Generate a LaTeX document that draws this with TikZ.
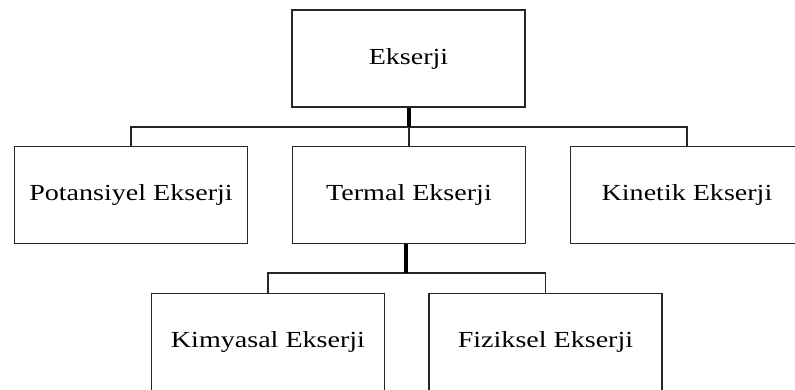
\documentclass[tikz,border=0pt]{standalone}
\usepackage{fontspec}
\setmainfont{Liberation Serif}[FakeStretch=1.22]

\tikzset{
  box/.style={draw=black!85, line width=1.6pt, rectangle, inner sep=0pt,
    minimum width=233pt, minimum height=97pt,
    font=\fontsize{23}{27}\selectfont},
  link/.style={draw=black!85, line width=1.6pt},
  trunk/.style={draw=black, line width=4.5pt}
}

\begin{document}
\begin{tikzpicture}[x=1pt, y=-1pt]
    \clip (0,0) rectangle (795,389);
    \fill[white] (0,0) rectangle (795,389);

    % Top level
    \node[box] (eks) at (408.5, 58.5) {Ekserji};

    % Second row
    \node[box] (pot) at (131, 195) {Potansiyel Ekserji};
    \node[box] (ter) at (409, 195) {Termal Ekserji};
    \node[box] (kin) at (687, 195) {Kinetik Ekserji};

    % Third row
    \node[box] (kim) at (268, 342) {Kimyasal Ekserji};
    \node[box] (fiz) at (545.5, 342) {Fiziksel Ekserji};

    % Branch under Ekserji
    \coordinate (j1) at (409, 127);
    \draw[link] (pot.north) |- (j1) -| (kin.north);
    \draw[link] (j1) -- (ter.north);
    \draw[trunk] (eks.south -| j1) -- (j1);

    % Branch under Termal Ekserji
    \coordinate (j2) at (406, 273);
    \draw[link] (kim.north) |- (j2) -| (fiz.north);
    \draw[trunk] (ter.south -| j2) -- (j2);
\end{tikzpicture}
\end{document}
